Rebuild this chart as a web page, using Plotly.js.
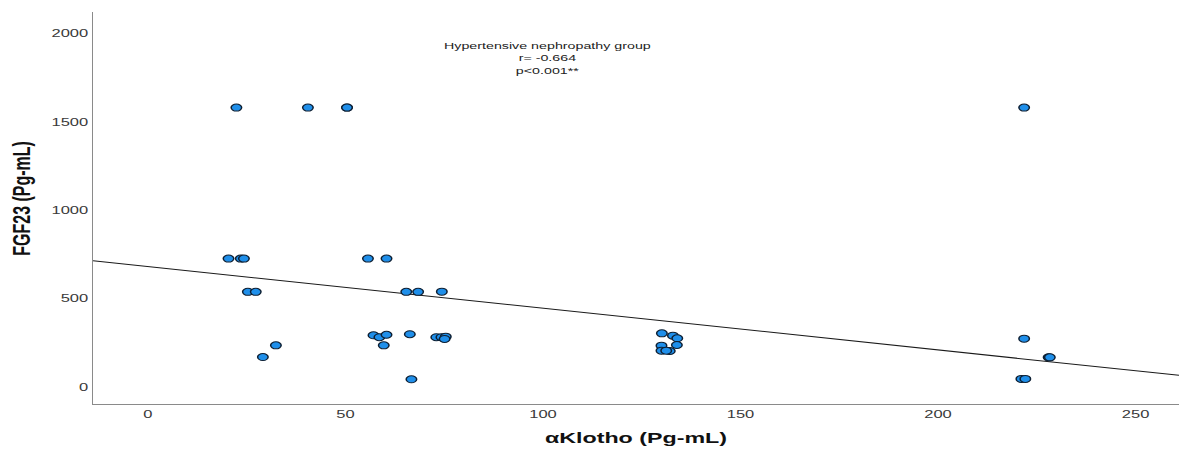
<!DOCTYPE html>
<html>
<head>
<meta charset="utf-8">
<script src="https://cdn.plot.ly/plotly-3.0.1.min.js"></script>
<style>
  html, body { margin: 0; padding: 0; background: #ffffff; overflow: hidden; }
  #wrap { width: 1179px; height: 451px; overflow: hidden; }
  #chart { width: 786px; height: 451px; transform: scaleX(1.5); transform-origin: 0 0; }
</style>
</head>
<body>
<div id="wrap"><div id="chart"></div></div>
<script>
// αKlotho (Pg-mL) values
const klotho = [22.4, 40.5, 50.4, 50.4,
  20.4, 23.5, 24.3, 55.7, 60.4,
  25.3, 27.3, 65.4, 68.4, 74.4,
  57.1, 58.6, 60.4, 66.3, 73.0, 74.3, 75.4, 75.1,
  32.4, 59.7,
  29.1,
  66.7,
  130.1, 132.9, 134.0, 130.0, 133.9, 130.0, 132.1, 131.2,
  221.8, 221.8, 228.0, 228.3, 221.1, 222.1];
// FGF23 (Pg-mL) values
const fgf23 = [1580, 1580, 1580, 1580,
  725, 725, 725, 725, 725,
  537, 537, 537, 537, 538,
  291, 280, 294, 297, 280, 280, 283, 270,
  234, 234,
  168,
  42,
  302, 289, 274, 232, 236, 204, 202, 204,
  1580, 272, 166, 166, 44, 44];
// fitted line
const fitIntercept = 680;
const fitSlope = -2.36;
const xTicks = [0, 50, 100, 150, 200, 250];
const yTicks = [0, 500, 1000, 1500, 2000];
const xRange = [-13.9, 261];
const yRange = [-98, 2121];
const xTitle = 'αKlotho (Pg-mL)';
const yTitle = 'FGF23 (Pg-mL)';
const annotationLines = ["Hypertensive nephropathy group", "r= -0.664", "p<0.001**"];

const fitX = xRange.slice();
const fitY = fitX.map(x => fitIntercept + fitSlope * x);

const font = '"Liberation Sans", Arial, sans-serif';

const traces = [
  {
    x: fitX, y: fitY, type: 'scatter', mode: 'lines',
    line: { color: '#1a1a1a', width: 1 }, hoverinfo: 'skip', showlegend: false, cliponaxis: true
  },
  {
    x: klotho, y: fgf23, type: 'scatter', mode: 'markers',
    marker: { size: 7, color: '#1f8fea', line: { color: '#0d1f33', width: 1 } },
    showlegend: false, cliponaxis: false
  }
];

const layout = {
  width: 786, height: 451,
  margin: { l: 62.2, r: 0, t: 12, b: 47, pad: 0 },
  paper_bgcolor: '#ffffff', plot_bgcolor: '#ffffff',
  font: { family: font, color: '#333333', size: 11 },
  showlegend: false,
  xaxis: {
    range: xRange, tickmode: 'array', tickvals: xTicks, ticktext: xTicks.map(String),
    showgrid: false, zeroline: false, showline: true, linecolor: '#8a8a8a', linewidth: 1,
    ticks: '', tickfont: { size: 11, color: '#3a3a3a', family: font },
    title: { text: xTitle, font: { size: 15.5, color: '#111111', family: font, weight: 'bold' }, standoff: 12 }
  },
  yaxis: {
    range: yRange, tickmode: 'array', tickvals: yTicks, ticktext: yTicks.map(String),
    showgrid: false, zeroline: false, showline: true, linecolor: '#8a8a8a', linewidth: 1,
    ticks: '', tickfont: { size: 11, color: '#3a3a3a', family: font }
  },
  annotations: [
    {
      x: 101.2, y: 1975, xref: 'x', yref: 'y', xanchor: 'center', yanchor: 'top',
      text: annotationLines.join('<br>'), showarrow: false, align: 'center',
      font: { size: 9.5, color: '#222222', family: font }
    },
    {
      x: -0.0656, y: 0.525, xref: 'paper', yref: 'paper', xanchor: 'center', yanchor: 'middle',
      text: yTitle, textangle: -90, showarrow: false,
      font: { size: 16, color: '#111111', family: font, weight: 'bold' }
    }
  ]
};

Plotly.newPlot('chart', traces, layout, { displayModeBar: false, staticPlot: true });
</script>
</body>
</html>
